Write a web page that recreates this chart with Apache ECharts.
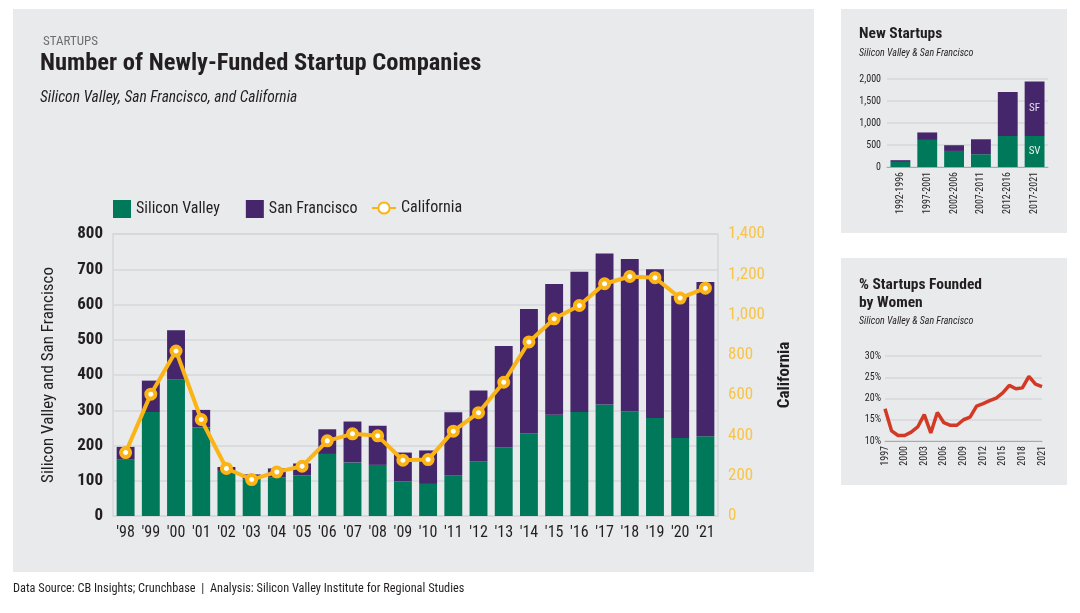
<!DOCTYPE html>
<html>
<head>
<meta charset="utf-8">
<script src="https://cdn.jsdelivr.net/npm/echarts@6/dist/echarts.min.js"></script>
<style>
html,body{margin:0;padding:0;background:#fff;}
#chart{width:1080px;height:613px;}
</style>
</head>
<body>
<div id="chart"></div>
<script>
// ---- Main chart data ----
const years = ["'98","'99","'00","'01","'02","'03","'04","'05","'06","'07","'08","'09","'10","'11","'12","'13","'14","'15","'16","'17","'18","'19","'20","'21"];
const siliconValley = [160,295,387,252,128,103,110,115,176,152,145,98,91,116,155,195,235,287,295,316,297,278,221,226];
const sanFrancisco = [36,89,140,49,11,15,25,34,70,116,111,82,95,178,201,287,352,371,398,429,432,422,404,438];
const california = [315,605,819,479,236,181,219,247,373,408,398,277,280,421,513,664,864,979,1045,1153,1189,1183,1082,1131];

// ---- New Startups panel ----
const periods = ['1992-1996','1997-2001','2002-2006','2007-2011','2012-2016','2017-2021'];
const periodSV = [115,615,365,290,705,705];
const periodSF = [40,170,130,340,1000,1240];

// ---- % founded by women panel ----
const womenYears = ['1997','1998','1999','2000','2001','2002','2003','2004','2005','2006','2007','2008','2009','2010','2011','2012','2013','2014','2015','2016','2017','2018','2019','2020','2021'];
const womenPct = [17.6,12.4,11.3,11.3,12.1,13.3,16.2,11.9,16.7,14.3,13.7,13.7,15.0,15.6,18.2,18.8,19.5,20.1,21.3,23.1,22.3,22.5,25.2,23.4,22.8];

const FONT = "'Roboto Condensed','Liberation Sans Narrow','DejaVu Sans Condensed',sans-serif";
const GREEN = '#00795a', PURPLE = '#45266b', YELLOW = '#fbb415', RED = '#d23a26';
const DARK = '#231f20', GRID = '#d5d7db';

const chart = echarts.init(document.getElementById('chart'), null, {renderer:'canvas'});

const lastIdx = periods.length - 1;
const svItems = periodSV.map((v,i)=> i===lastIdx ? {value:v,label:{show:true,formatter:'SV',color:'#e6f2ee',fontSize:11,fontFamily:FONT}} : v);
const sfItems = periodSF.map((v,i)=> i===lastIdx ? {value:v,label:{show:true,formatter:'SF',color:'#e3dbef',fontSize:11,fontFamily:FONT}} : v);

const option = {
  backgroundColor:'#ffffff',
  animation:false,
  textStyle:{fontFamily:FONT},
  graphic:[
    {type:'rect',left:13,top:9,shape:{width:801,height:563},style:{fill:'#e9eaec'},z:-10},
    {type:'rect',left:841,top:9,shape:{width:226,height:224},style:{fill:'#e9eaec'},z:-10},
    {type:'rect',left:841,top:258,shape:{width:226,height:227},style:{fill:'#e9eaec'},z:-10},
    {type:'text',left:43,top:35,style:{text:'STARTUPS',fontSize:13,fill:'#6d6e71',fontFamily:FONT}},
    {type:'text',left:40,top:51,style:{text:'Number of Newly-Funded Startup Companies',fontSize:24.5,fontWeight:'bold',fill:DARK,fontFamily:FONT}},
    {type:'text',left:40,top:90,style:{text:'Silicon Valley, San Francisco, and California',fontSize:15.5,fontStyle:'italic',fill:DARK,fontFamily:FONT}},
    {type:'text',left:13,top:583,style:{text:'Data Source: CB Insights; Crunchbase  |  Analysis: Silicon Valley Institute for Regional Studies',fontSize:12.3,fill:DARK,fontFamily:FONT}},
    {type:'text',left:859,top:26,style:{text:'New Startups',fontSize:15.5,fontWeight:'bold',fill:DARK,fontFamily:FONT}},
    {type:'text',left:859,top:48,style:{text:'Silicon Valley & San Francisco',fontSize:10,fontStyle:'italic',fill:DARK,fontFamily:FONT}},
    {type:'text',left:859,top:276,style:{text:'% Startups Founded\nby Women',fontSize:15.5,fontWeight:'bold',fill:DARK,fontFamily:FONT,lineHeight:18}},
    {type:'text',left:859,top:316,style:{text:'Silicon Valley & San Francisco',fontSize:10,fontStyle:'italic',fill:DARK,fontFamily:FONT}}
  ],
  legend:[
    {left:108, top:195, itemGap:26, itemWidth:18, itemHeight:18,
     textStyle:{fontSize:16,color:DARK,fontFamily:FONT},
     data:[{name:'Silicon Valley',icon:'rect'},{name:'San Francisco',icon:'rect'}]},
    {left:366, top:195, itemWidth:24, itemHeight:14,
     textStyle:{fontSize:16,color:DARK,fontFamily:FONT},
     data:[{name:'California'}]}
  ],
  grid:[
    {left:113,top:234,width:605,height:282,show:true,borderColor:GRID,borderWidth:1.5,backgroundColor:'transparent'},
    {left:887,top:79,width:161,height:88},
    {left:885,top:356,width:157,height:85}
  ],
  xAxis:[
    {type:'category',gridIndex:0,data:years,
     axisLine:{lineStyle:{color:GRID,width:1.5}},axisTick:{show:false},
     axisLabel:{fontSize:16,color:DARK,margin:9,interval:0,fontFamily:FONT}},
    {type:'category',gridIndex:1,data:periods,
     axisLine:{lineStyle:{color:'#a7a9ac',width:1}},axisTick:{show:false},
     axisLabel:{fontSize:10,color:DARK,rotate:90,margin:5,interval:0,fontFamily:FONT}},
    {type:'category',gridIndex:2,data:womenYears,boundaryGap:false,
     axisLine:{lineStyle:{color:'#a7a9ac',width:1}},axisTick:{show:false},
     axisLabel:{fontSize:10,color:DARK,rotate:90,margin:5,interval:2,fontFamily:FONT}}
  ],
  yAxis:[
    {type:'value',gridIndex:0,min:0,max:800,interval:100,
     name:'Silicon Valley and San Francisco',nameLocation:'middle',nameGap:56,nameRotate:90,
     nameTextStyle:{fontSize:17,color:DARK,fontFamily:FONT},
     axisLine:{show:false},axisTick:{show:false},
     axisLabel:{fontSize:17,fontWeight:'bold',color:DARK,margin:10,fontFamily:FONT},
     splitLine:{lineStyle:{color:GRID,width:1.5}}},
    {type:'value',gridIndex:0,min:0,max:1400,interval:200,position:'right',
     name:'California',nameLocation:'middle',nameGap:54,nameRotate:90,
     nameTextStyle:{fontSize:17,fontWeight:'bold',color:DARK,fontFamily:FONT},
     axisLine:{show:false},axisTick:{show:false},
     axisLabel:{fontSize:17,color:'#f8c44a',margin:10,fontFamily:FONT},
     splitLine:{show:false}},
    {type:'value',gridIndex:1,min:0,max:2000,interval:500,
     axisLine:{show:false},axisTick:{show:false},
     axisLabel:{fontSize:10,color:DARK,margin:6,fontFamily:FONT,formatter:v=>v.toLocaleString('en-US')},
     splitLine:{lineStyle:{color:'#d5d7db',width:1.5}}},
    {type:'value',gridIndex:2,min:10,max:30,interval:5,
     axisLine:{show:false},axisTick:{show:false},
     axisLabel:{fontSize:10,color:DARK,margin:4,fontFamily:FONT,formatter:'{value}%'},
     splitLine:{lineStyle:{color:'#d5d7db',width:1.5}}}
  ],
  series:[
    {name:'Silicon Valley',type:'bar',stack:'main',xAxisIndex:0,yAxisIndex:0,data:siliconValley,
     barWidth:'71%',itemStyle:{color:GREEN}},
    {name:'San Francisco',type:'bar',stack:'main',xAxisIndex:0,yAxisIndex:0,data:sanFrancisco,
     barWidth:'71%',itemStyle:{color:PURPLE}},
    {name:'California',type:'line',xAxisIndex:0,yAxisIndex:1,data:california,
     symbol:'circle',symbolSize:9,
     lineStyle:{color:YELLOW,width:4},
     itemStyle:{color:'#ffffff',borderColor:YELLOW,borderWidth:4},
     z:5},
    {name:'NS Silicon Valley',type:'bar',stack:'ns',xAxisIndex:1,yAxisIndex:2,data:svItems,
     barWidth:'74%',itemStyle:{color:GREEN},label:{show:false,position:'inside'}},
    {name:'NS San Francisco',type:'bar',stack:'ns',xAxisIndex:1,yAxisIndex:2,data:sfItems,
     barWidth:'74%',itemStyle:{color:PURPLE},label:{show:false,position:'inside'}},
    {name:'Women',type:'line',xAxisIndex:2,yAxisIndex:3,data:womenPct,
     symbol:'none',lineStyle:{color:RED,width:3.5}}
  ]
};
chart.setOption(option);
</script>
</body>
</html>
